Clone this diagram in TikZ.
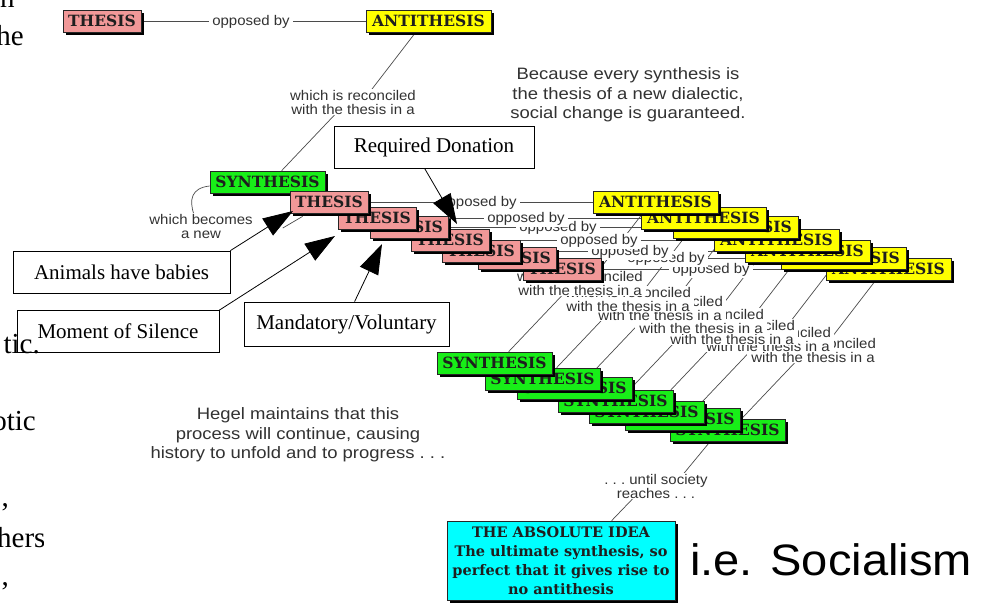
\documentclass[tikz,border=0pt]{standalone}
\usepackage{fontspec}
\setmainfont{Liberation Serif}
\newfontfamily\boxff{DejaVu Serif}
\newfontfamily\labff{Liberation Sans}[FakeStretch=1.07]
\newfontfamily\bigff{Liberation Sans}[FakeStretch=1.12]
\newfontfamily\socff{Liberation Sans}[FakeStretch=1.07]
\usetikzlibrary{shadows,arrows.meta,calc}
\pgfdeclarelayer{bgfill}
\pgfdeclarelayer{lines}
\pgfsetlayers{bgfill,lines,main}
\definecolor{thpink}{RGB}{241,152,152}
\definecolor{anyellow}{RGB}{255,255,0}
\definecolor{sygreen}{RGB}{24,238,24}
\definecolor{abcyan}{RGB}{0,255,255}
\definecolor{labgray}{RGB}{50,50,50}
\definecolor{lngray}{RGB}{75,75,75}
\definecolor{boxtext}{RGB}{30,30,30}
\begin{document}
\begin{tikzpicture}[x=1pt,y=-1pt,
  bx/.style={draw=black!85, line width=0.7pt, inner sep=0pt, minimum height=22pt,
    font=\boxff\bfseries\fontsize{15.5}{16}\selectfont, text=boxtext,
    drop shadow={shadow xshift=2.5pt, shadow yshift=-2.5pt, fill=black, opacity=1}},
  thbox/.style={bx, fill=thpink, minimum width=78pt},
  anbox/.style={bx, fill=anyellow, minimum width=125pt},
  sybox/.style={bx, fill=sygreen, minimum width=115pt},
  lab/.style={fill=white, inner xsep=3pt, inner ysep=1pt, align=center, text=labgray,
    font=\labff\fontsize{14}{14}\selectfont},
  bigtxt/.style={inner sep=0pt, align=center, text=labgray, font=\bigff\fontsize{16.5}{19.5}\selectfont},
  ln/.style={draw=lngray, line width=0.7pt},
  callout/.style={draw=black, line width=0.8pt, fill=white, minimum height=42pt, inner sep=0pt,
    font=\fontsize{21}{22}\selectfont},
  bigarrow/.style={draw=black, line width=0.8pt, -{Triangle[length=30pt,width=20pt]}},
  frag/.style={inner sep=0pt, font=\fontsize{29}{29}\selectfont}
]
\begin{pgfonlayer}{bgfill}
\fill[white] (0,0) rectangle (988,605);
\end{pgfonlayer}
\useasboundingbox (0,0) rectangle (988,605);

% ---- first copy of the dialectic
\node[lab] (op0) at (251,22) {opposed by};
\node[lab] (re0) at (353,102) {which is reconciled\\with the thesis in a};
\node[thbox] (th0) at (102,21) {THESIS};
\node[anbox] (an0) at (428.5,21) {ANTITHESIS};
\node[sybox] (sy0) at (267.5,182) {SYNTHESIS};
\node[lab] (wb) at (201,226) {which becomes\\a new};

% ---- stacked copies: labels, earlier copies on top
\foreach \i/\tx/\ty in {7/523/258,6/478/247,5/442/240,4/411/229,3/370/216,2/338/207,1/290/191}{
  \node[lab] (op\i) at (\tx+188,\ty+12) {opposed by};
  \node[lab] (re\i) at (\tx+290,\ty+92) {which is reconciled\\with the thesis in a};
}
% ---- stacked copies: boxes
\foreach \i/\tx/\ty in {7/523/258,6/478/247,5/442/240,4/411/229,3/370/216,2/338/207,1/290/191}{
  \node[thbox] (th\i) at (\tx+39,\ty+11) {THESIS};
  \node[anbox] (an\i) at (\tx+365.5,\ty+11) {ANTITHESIS};
  \node[sybox] (sy\i) at (\tx+204.5,\ty+172) {SYNTHESIS};
}

% ---- bottom part
\node[lab] (until) at (656,486) {.\ .\ .\ until society\\reaches .\ .\ .};
\node[bx, fill=abcyan, minimum width=228pt, minimum height=79pt, align=center,
  font=\boxff\bfseries\fontsize{14.5}{19}\selectfont] (abs) at (561,560.5)
  {THE ABSOLUTE IDEA\\The ultimate synthesis, so\\perfect that it gives rise to\\no antithesis};
\node[anchor=base west, inner sep=0pt, font=\socff\fontsize{44}{44}\selectfont] (soc) at (690,575) {i.e. Socialism};

\node[bigtxt] (because) at (628,95) {Because every synthesis is\\the thesis of a new dialectic,\\social change is guaranteed.};
\node[bigtxt] (hegel) at (298,435) {Hegel maintains that this\\process will continue, causing\\history to unfold and to progress .\ .\ .};

% ---- connectors
\begin{pgfonlayer}{lines}
\foreach \i in {0,...,7}{
  \draw[ln] (th\i.east) -- (an\i.west);
  \draw[ln] ($(an\i.south west)+(50,0)$) -- ($(re\i.north)+(17,3)$);
  \draw[ln] ($(re\i.south)+(-16,-3)$) -- ($(sy\i.north west)+(72,0)$);
}
\draw[ln] ($(sy0.west)+(0,4)$) .. controls (191,188) and (189,200) .. ($(wb.north)+(-7,2)$);
\draw[ln] ($(wb.east)+(27,2)$) -- ($(th1.south west)+(13,3)$);
\draw[ln] ($(sy7.south west)+(39,2)$) -- ($(until.north)+(26,3)$);
\draw[ln] ($(until.south)+(-21,-3)$) -- ($(abs.north west)+(165,0)$);
\end{pgfonlayer}

% ---- call-out boxes and arrows
\node[callout, minimum width=200pt] (req) at (434,147) {Required Donation};
\node[callout, minimum width=217pt] (ani) at (121.5,272) {Animals have babies};
\node[callout, minimum width=202pt] (mom) at (118,331.5) {Moment of Silence};
\node[callout, minimum width=205pt, minimum height=44pt] (man) at (346.5,324) {Mandatory/Voluntary};
\coordinate (tipR) at (457,224);
\coordinate (tipA) at (293,211);
\coordinate (tipM) at (335,236);
\coordinate (tipV) at (382,244);
\draw[bigarrow] ($(req.south west)+(91,0)$) -- (tipR);
\draw[bigarrow] (ani.north east) -- (tipA);
\draw[bigarrow] (mom.north east) -- (tipM);
\draw[bigarrow] ($(man.north west)+(111,0)$) -- (tipV);

% ---- cut-off slide text at the left edge
\node[frag, anchor=base west] (f1) at (0,8) {n};
\node[frag, anchor=base east] (f2) at (24,45) {he};
\node[frag, anchor=base east] (f3) at (40,353) {tic.};
\node[frag, anchor=base east] (f4) at (36,430) {otic};
\node[frag, anchor=base east] (f5) at (9,506) {,};
\begin{scope}
\clip (0,500) rectangle (43,560);
\node[frag, anchor=base west] (f6) at (-3,547) {hers};
\end{scope}
\node[frag, anchor=base east] (f7) at (9,585) {,};
\end{tikzpicture}
\end{document}
